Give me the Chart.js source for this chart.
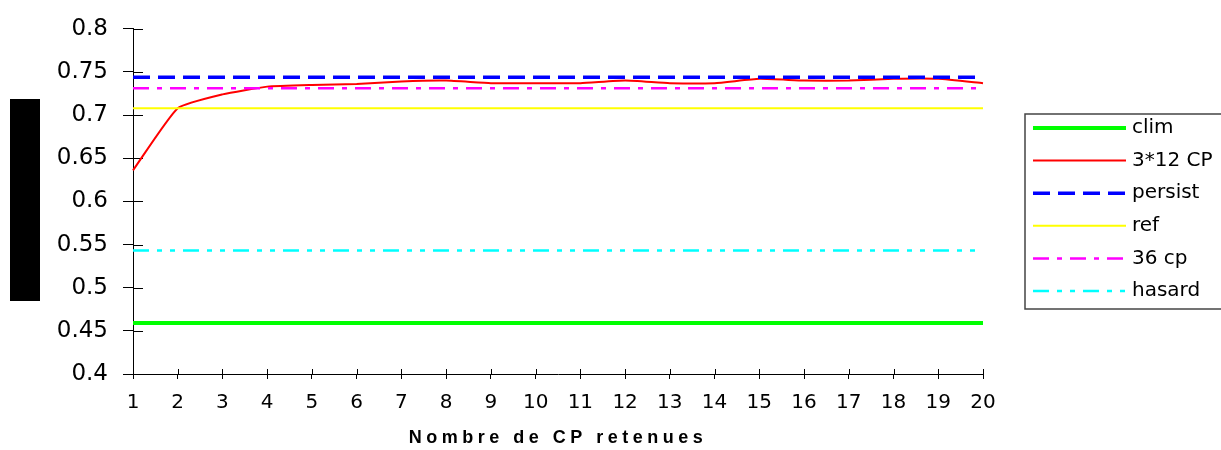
<!DOCTYPE html>
<html>
<head>
<meta charset="utf-8">
<script src="https://cdn.jsdelivr.net/npm/chart.js@4"></script>
<style>
  body { margin: 0; background: #fff; }
  #wrap { position: relative; width: 1221px; height: 450px; }
  #blackout { position: absolute; left: 10px; top: 99px; width: 30px; height: 202px; background: #000; }
</style>
</head>
<body>
<div id="wrap">
  <canvas id="scoreChart" width="1221" height="450"></canvas>
  <div id="blackout"></div>
</div>
<script>
// x categories
let cpCounts = ['1', '2', '3', '4', '5', '6', '7', '8', '9', '10',
                '11', '12', '13', '14', '15', '16', '17', '18', '19', '20']

// the only curve that moves
let score3x12 = [0.636, 0.708, 0.724, 0.733, 0.735, 0.736, 0.739, 0.740, 0.737, 0.737,
                 0.737, 0.740, 0.737, 0.737, 0.742, 0.740, 0.740, 0.742, 0.742, 0.737]

// flat reference scores
let climScore = 0.459
let persistScore = 0.744
let refScore = 0.708
let cp36Score = 0.731
let hasardScore = 0.543

let seriesNames = ['clim', '3*12 CP', 'persist', 'ref', '36 cp', 'hasard']

// y axis
let yTickLabels = ['0.4', '0.45', '0.5', '0.55', '0.6', '0.65', '0.7', '0.75', '0.8']
let yMin = 0.4
let yMax = 0.8
let yStep = 0.05

// a flat line from the first to the last category
function flat(v) {
    return [{ x: cpCounts[0], y: v }, { x: cpCounts[cpCounts.length - 1], y: v }]
}

// ticks that cross the axis: chart.js draws the outer half, we add the inner half
let crossTicks = {
    id: 'crossTicks',
    beforeDatasetsDraw(chart) {
        let ctx = chart.ctx
        let area = chart.chartArea
        let xs = chart.scales.x
        let ys = chart.scales.y
        ctx.save()
        ctx.strokeStyle = '#000'
        ctx.lineWidth = 1
        ctx.beginPath()
        for (let i = 0; i < ys.ticks.length; i++) {
            let y = Math.round(ys.getPixelForTick(i)) + 0.5
            ctx.moveTo(area.left, y)
            ctx.lineTo(area.left + 10, y)
        }
        for (let i = 0; i < xs.ticks.length; i++) {
            let x = Math.round(xs.getPixelForTick(i)) + 0.5
            ctx.moveTo(x, area.bottom)
            ctx.lineTo(x, area.bottom - 5)
        }
        ctx.stroke()
        ctx.restore()
    }
}

// spaced-out axis title
let spacedTitle = {
    id: 'spacedTitle',
    beforeDraw(chart) {
        let s = chart.scales.x
        if (s._spaced) return
        let orig = s.drawTitle
        s.drawTitle = function () {
            this.ctx.save()
            this.ctx.letterSpacing = '4.5px'
            orig.call(this)
            this.ctx.restore()
        }
        s._spaced = true
    }
}

// boxed legend on the right, same look as the original sheet
let boxLegend = {
    id: 'boxLegend',
    afterDraw(chart) {
        let ctx = chart.ctx
        let left = 1025, top = 114, h = 195
        ctx.save()
        ctx.fillStyle = '#fff'
        ctx.fillRect(left, top, 230, h)
        ctx.strokeStyle = '#444'
        ctx.lineWidth = 1.5
        ctx.strokeRect(left, top, 230, h)
        ctx.font = '20px "DejaVu Sans"'
        ctx.textBaseline = 'middle'
        chart.data.datasets.forEach(function (ds, i) {
            let y = top + 14 + i * 32.6
            ctx.strokeStyle = ds.borderColor
            ctx.lineWidth = ds.borderWidth
            ctx.setLineDash(ds.borderDash || [])
            ctx.beginPath()
            ctx.moveTo(1033, y)
            ctx.lineTo(1126, y)
            ctx.stroke()
            ctx.setLineDash([])
            ctx.fillStyle = '#000'
            ctx.fillText(ds.label, 1132, y)
        })
        ctx.restore()
    }
}

let ctx = document.getElementById('scoreChart').getContext('2d')
var chart = new Chart(ctx, {
    type: 'line',
    data: {
        labels: cpCounts,
        datasets: [
            { label: seriesNames[0], data: flat(climScore), borderColor: 'rgb(0, 255, 0)', borderWidth: 4, order: 5 },
            { label: seriesNames[1], data: score3x12, borderColor: 'rgb(255, 0, 0)', borderWidth: 2, tension: 0.15, order: 4 },
            { label: seriesNames[2], data: flat(persistScore), borderColor: 'rgb(0, 0, 255)', borderWidth: 3.5, borderDash: [17, 8], order: 3 },
            { label: seriesNames[3], data: flat(refScore), borderColor: 'rgb(255, 255, 0)', borderWidth: 2, order: 2 },
            { label: seriesNames[4], data: flat(cp36Score), borderColor: 'rgb(255, 0, 255)', borderWidth: 2.5, borderDash: [16, 8, 5, 8], order: 1 },
            { label: seriesNames[5], data: flat(hasardScore), borderColor: 'rgb(0, 255, 255)', borderWidth: 2.5, borderDash: [16, 8, 5, 8, 5, 8], order: 0 }
        ]
    },
    options: {
        responsive: false,
        animation: false,
        elements: { point: { radius: 0 } },
        layout: { padding: { top: 26, right: 238, left: 0, bottom: 0 } },
        plugins: {
            legend: { display: false },
            tooltip: { enabled: false }
        },
        scales: {
            x: {
                type: 'category',
                offset: false,
                grid: { drawOnChartArea: false, drawTicks: true, tickLength: 5, color: '#000' },
                border: { display: true, color: '#000', width: 1 },
                ticks: { color: '#000', padding: 12, maxRotation: 0, autoSkip: false,
                         font: { family: '"DejaVu Sans"', size: 20 } },
                title: {
                    display: true,
                    text: 'Nombre de CP retenues',
                    color: '#000',
                    padding: { top: 0, bottom: 1 },
                    font: { family: '"Liberation Sans"', size: 18, weight: 'bold' }
                },
                afterFit: function (scale) { scale.height = 76 }
            },
            y: {
                min: yMin,
                max: yMax,
                grid: { drawOnChartArea: false, drawTicks: true, tickLength: 10, color: '#000' },
                border: { display: true, color: '#000', width: 1 },
                ticks: {
                    stepSize: yStep, color: '#000', padding: 15,
                    font: { family: '"DejaVu Sans"', size: 23 },
                    callback: function (value, index) { return yTickLabels[index] }
                },
                afterFit: function (scale) { scale.width = 133 }
            }
        }
    },
    plugins: [crossTicks, spacedTitle, boxLegend]
})
</script>
</body>
</html>
